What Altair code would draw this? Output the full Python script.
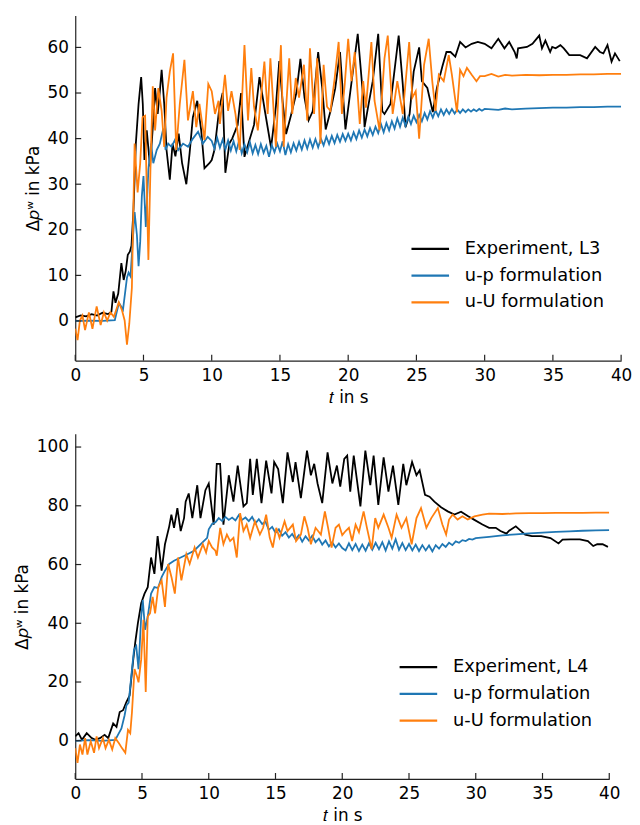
import altair as alt
import pandas as pd

# ---------------- top panel (L3) ----------------
top_exp_t = [0, 0.4, 0.8, 1.2, 1.6, 2.0, 2.4, 2.65, 2.8, 2.95, 3.15, 3.38, 3.55, 3.7, 3.85, 4.0, 4.12, 4.27, 4.44, 4.64,
             4.83, 4.95, 5.07, 5.24, 5.48, 5.72, 5.85, 6.04, 6.2, 6.33, 6.52, 6.69, 6.93, 7.13, 7.34, 7.58, 7.83, 8.14,
             8.38, 8.62, 8.94, 9.23, 9.47, 9.83, 10.0, 10.2, 10.56, 10.8, 11.0, 11.3, 11.5, 11.9, 12.15, 12.4, 12.8,
             13.1, 13.5, 13.9, 14.35, 14.7, 14.95, 15.2, 15.45, 15.8, 16.2, 16.5, 16.8, 17.1, 17.4, 17.8, 18.1, 18.35,
             18.7, 19.05, 19.4, 19.8, 20.1, 20.7, 21.1, 21.2, 21.45, 21.8, 22.2, 22.5, 22.66, 23.1, 23.7, 24.0, 24.2,
             24.5, 24.8, 25.2, 25.4, 25.8, 26.2, 26.5, 26.9, 27.2, 27.5, 27.85, 28.2, 28.6, 29.05, 29.5, 30.0, 30.5,
             31.0, 31.45, 31.8, 32.2, 32.35, 32.45, 33.1, 33.5, 34.0, 34.2, 34.45, 34.8, 34.95, 35.2, 35.55, 35.8, 36.2,
             37.0, 37.5, 38.1, 38.45, 38.7, 39.0, 39.3, 39.55, 39.9]
top_exp_p = [0.8, 1.2, 1.0, 1.5, 1.2, 1.8, 1.5, 2.0, 6.5, 4.0, 6.0, 12.7, 9.0, 11.0, 14.5, 15.2, 16.5, 24.6, 38.9, 47.6,
             53.5, 47.6, 35.3, 41.8, 33.9, 44.0, 51.1, 45.4, 50.4, 55.1, 47.6, 37.5, 31.0, 38.9, 36.1, 41.1, 34.6, 30.0,
             36.8, 44.7, 48.3, 41.8, 33.5, 34.6, 35.3, 37.5, 46.8, 50.0, 32.5, 39.0, 40.0, 43.0, 50.0, 36.0, 40.0,
             43.0, 53.5, 46.0, 38.0, 47.0, 57.0, 48.0, 41.0, 45.0, 50.0, 57.5, 49.0, 44.0, 46.0, 59.0, 51.0, 42.0,
             46.0, 51.0, 59.0, 42.0, 49.0, 63.0, 49.0, 42.5, 46.8, 52.6, 63.0, 46.0, 45.4, 47.6, 62.6, 51.9, 42.5,
             45.4, 54.7, 60.0, 52.6, 51.1, 45.8, 51.1, 55.8, 59.0, 59.0, 58.0, 61.2, 60.0, 60.8, 61.2, 60.8, 59.8,
             61.9, 59.8, 61.2, 59.0, 57.6, 59.8, 60.1, 60.8, 62.6, 59.8, 61.5, 59.0, 60.1, 59.8, 60.5, 59.8, 58.3,
             58.3, 57.6, 60.1, 59.0, 58.7, 60.5, 56.9, 58.7, 57.0]

top_up_t = [0, 1, 2, 2.9, 3.2, 3.5, 3.79, 3.91, 4.05, 4.35, 4.52, 4.64, 4.76, 4.88, 5.0, 5.17, 5.36, 5.56, 5.72, 5.97,
            6.2, 6.45, 6.62, 6.81, 7.05, 7.3, 7.54, 7.9, 8.26, 8.62, 9.0, 9.35, 9.71,
            10.0, 10.2, 10.4, 10.6, 10.8, 11.0, 11.2, 11.4, 11.6, 11.8, 12.0, 12.2, 12.4, 12.6, 12.8, 13.0, 13.2,
            13.4, 13.6, 13.8, 14.0, 14.2, 14.4, 14.6, 14.8, 15.0, 15.2, 15.4, 15.6, 15.8, 16.0, 16.2, 16.4, 16.6,
            16.8, 17.0, 17.2, 17.4, 17.6, 17.8, 18.0, 18.2, 18.4, 18.6, 18.8, 19.0, 19.2, 19.4, 19.6, 19.8, 20.0,
            20.2, 20.4, 20.6, 20.8, 21.0, 21.2, 21.4, 21.6, 21.8, 22.0, 22.2, 22.4, 22.6, 22.8, 23.0, 23.2, 23.4,
            23.6, 23.8, 24.0, 24.2, 24.4, 24.6, 24.8, 25.0, 25.2, 25.4, 25.6, 25.8, 26.0, 26.2, 26.4, 26.6, 26.8,
            27.0, 27.2, 27.4, 27.6, 27.8, 28.0, 28.2, 28.4, 28.6, 28.8, 29.0, 29.2, 29.4, 29.6, 29.8, 30.0,
            31.0, 31.5, 32.0, 33.0, 34.0, 35.0, 36.0, 37.0, 38.0, 39.0, 40.0]
top_up_p = [0.0, 0.1, 0.0, 0.2, 4.0, 2.5, 9.5, 10.6, 9.8, 23.9, 18.8, 12.0, 17.4, 27.4, 31.8, 20.6, 33.2, 38.9, 34.6, 37.5,
            38.9, 42.2, 37.5, 38.9, 38.2, 39.7, 37.5, 38.9, 38.2, 40.0, 41.5, 38.9, 40.4,
            39.5, 37.8, 40.2, 38.0, 39.8, 37.6, 39.6, 37.4, 39.4, 37.2, 39.5, 36.8, 38.8, 37.0, 39.2, 36.8, 38.6,
            36.6, 38.8, 36.9, 38.4, 36.0, 38.6, 37.0, 38.9, 37.2, 39.4, 36.4, 38.8, 37.0, 39.0, 37.4, 39.3, 37.6,
            39.6, 37.8, 39.8, 38.0, 39.9, 38.1, 40.0, 38.5, 40.4, 38.8, 40.6, 39.0, 40.8, 39.3, 41.0, 39.5, 41.1,
            39.6, 41.4, 39.9, 41.8, 40.2, 42.0, 40.5, 42.3, 40.8, 42.6, 41.2, 43.2, 41.4, 43.4, 41.8, 43.8, 42.2,
            44.4, 42.6, 44.6, 42.8, 44.8, 43.2, 45.0, 43.6, 45.2, 43.8, 45.6, 44.2, 46.0, 44.6, 46.2, 44.9, 46.4,
            45.2, 46.4, 45.4, 46.5, 45.5, 46.4, 45.6, 46.4, 45.8, 46.4, 45.9, 46.4, 46.0, 46.5, 46.1, 46.5,
            46.3, 46.6, 46.4, 46.6, 46.7, 46.8, 46.8, 46.9, 46.9, 47.0, 47.0]

top_uu_t = [0, 0.17, 0.34, 0.53, 0.72, 1.0, 1.26, 1.57, 1.86, 2.1, 2.34, 2.58, 2.83, 3.19, 3.43, 3.62, 3.79, 3.96, 4.15,
            4.35, 4.57, 4.76, 4.93, 5.12, 5.24, 5.36, 5.51, 5.68, 5.85, 6.09, 6.33, 6.52, 6.69, 6.93, 7.17, 7.4, 7.66,
            8.0, 8.26, 8.62, 8.87, 9.1, 9.47, 9.75, 10.0, 10.24, 10.5, 10.6, 10.97, 11.2, 11.45, 11.74, 12.05, 12.4,
            12.66, 12.9, 13.1, 13.38, 13.86, 14.1, 14.3, 14.7, 15.07, 15.27, 15.68, 15.9, 16.16, 16.4, 16.76, 17.0,
            17.2, 17.5, 17.73, 17.97, 18.2, 18.45, 18.7, 19.0, 19.3, 19.54, 19.75, 20.0, 20.24, 20.48, 20.85, 21.1,
            21.3, 21.7, 21.93, 22.3, 22.66, 22.9, 23.26, 23.6, 24.0, 24.47, 24.7, 24.95, 25.2, 25.56, 25.9, 26.16,
            26.4, 26.64, 27.0, 27.37, 27.6, 27.97, 28.2, 28.45, 28.7, 29.05, 29.4, 29.66, 30.0, 30.5, 31.0, 31.5,
            32.0, 33.0, 34.0, 35.0, 36.0, 37.0, 38.0, 39.0, 40.0]
top_uu_p = [-1.7, -4.2, 0.1, 1.2, -2.0, 1.9, -1.7, 3.2, -0.9, 1.9, 0.1, 1.9, 0.9, 4.1, 2.3, 0.1, -5.2, -0.6, 7.3,
            38.9, 28.2, 34.6, 44.7, 45.0, 28.9, 13.4, 33.2, 51.5, 41.8, 51.1, 46.1, 38.2, 49.0, 54.7, 58.7, 37.5, 47.6,
            57.3, 44.0, 50.4, 42.5, 47.6, 39.7, 52.0, 50.4, 45.4, 48.3, 43.2, 54.0, 46.1, 50.4, 45.4, 37.5, 60.5,
            44.0, 55.5, 47.0, 41.8, 56.9, 45.4, 57.6, 38.2, 60.5, 38.2, 57.6, 45.4, 53.3, 49.0, 56.2, 44.0,
            59.8, 45.4, 57.6, 38.9, 56.2, 47.0, 46.1, 53.0, 61.2, 45.4, 52.0, 61.9, 52.6, 59.0, 43.2, 52.6,
            46.8, 61.2, 48.3, 41.8, 57.6, 62.6, 45.4, 52.6, 45.4, 61.2, 49.0, 50.4, 40.0, 56.2, 61.9, 52.6,
            46.1, 54.0, 52.6, 58.3, 54.0, 45.8, 55.1, 53.7, 55.5, 54.0, 52.6, 53.7, 53.7, 54.2, 53.6, 54.0,
            53.8, 54.0, 53.9, 54.0, 54.0, 54.1, 54.1, 54.2, 54.2]

# ---------------- bottom panel (L4) ----------------
bot_exp_t = [0, 0.25, 0.5, 0.86, 1.23, 1.5, 1.85, 2.2, 2.47, 2.84, 3.09, 3.33, 3.58, 3.83, 4.07, 4.32, 4.49, 4.69, 4.94,
             5.19, 5.43, 5.68, 5.93, 6.17, 6.47, 6.72, 7.04, 7.2, 7.4, 7.65, 7.9, 8.15, 8.27, 8.5, 8.77, 9.14, 9.38,
             9.75, 10.0, 10.37, 10.6, 10.85, 11.1, 11.5, 11.85, 12.17, 12.6, 12.85, 13.1, 13.3, 13.6, 13.95, 14.3,
             14.7, 14.9, 15.2, 15.55, 15.9, 16.3, 16.5, 16.9, 17.36, 17.65, 17.9, 18.15, 18.5, 18.9, 19.26, 19.6,
             19.85, 20.15, 20.37, 20.6, 20.86, 21.36, 21.73, 22.1, 22.35, 22.7, 23.1, 23.46, 23.8, 24.2, 24.57, 24.8,
             25.23, 25.56, 25.8, 26.2, 26.54, 26.9, 27.4, 27.9, 28.4, 28.9, 29.4, 29.9, 30.5, 31.0, 31.5, 31.85, 32.3,
             32.5, 33.0, 33.4, 33.7, 34.2, 34.9, 35.6, 36.2, 36.5, 37.1, 37.8, 38.4, 38.8, 39.1, 39.5, 39.9]
bot_exp_p = [1.5, 2.6, 0.3, 2.6, 0.9, 0.3, 0.9, 2.0, 0.9, 5.9, 4.7, 9.8, 10.4, 13.2, 15.4, 26.6, 33.3, 40.0, 46.8,
             50.1, 52.3, 62.4, 56.8, 69.7, 57.9, 66.9, 73.0, 77.0, 72.5, 79.2, 71.4, 75.8, 81.4, 84.2, 75.8, 87.0, 75.8,
             85.3, 87.6, 73.6, 94.3, 94.3, 73.6, 90.4, 81.4, 93.7, 79.8, 80.9, 96.0, 83.7, 96.0, 80.9, 95.4,
             84.2, 94.9, 92.5, 80.9, 98.2, 88.1, 94.9, 82.6, 98.8, 90.4, 94.3, 87.6, 80.9, 98.2, 87.6, 93.7,
             86.5, 96.0, 97.1, 84.8, 97.1, 79.8, 98.8, 87.0, 97.1, 80.3, 96.5, 84.8, 93.7, 80.3, 94.3, 87.0,
             94.9, 90.4, 92.1, 83.7, 83.1, 81.4, 79.5, 78.1, 77.0, 78.0, 76.5, 75.2, 73.6, 72.5, 72.5, 71.4, 70.5,
             71.5, 73.0, 71.4, 70.2, 69.7, 69.7, 69.0, 67.2, 68.5, 68.6, 68.6, 68.0, 66.3, 66.9, 66.9, 66.0]

bot_up_t = [0, 1, 2, 3.0, 3.2, 3.46, 3.7, 3.83, 4.0, 4.2, 4.4, 4.57, 4.74, 4.94, 5.06, 5.23, 5.43, 5.68, 5.93, 6.2, 6.47,
            6.72, 7.04, 7.4, 7.9, 8.4, 8.9, 9.38, 9.88, 10.0, 10.25, 10.5, 10.75, 11.0, 11.25, 11.5, 11.75, 12.0,
            12.25, 12.5, 12.75, 13.0, 13.25, 13.5, 13.75, 14.0, 14.25, 14.5, 14.75, 15.0, 15.25, 15.5, 15.75, 16.0,
            16.25, 16.5, 16.75, 17.0, 17.25, 17.5, 17.75, 18.0, 18.25, 18.5, 18.75, 19.0, 19.25, 19.5, 19.75, 20.0,
            20.25, 20.5, 20.75, 21.0, 21.25, 21.5, 21.75, 22.0, 22.25, 22.5, 22.75, 23.0, 23.25, 23.5, 23.75, 24.0,
            24.25, 24.5, 24.75, 25.0, 25.25, 25.5, 25.75, 26.0, 26.25, 26.5, 26.75, 27.0, 27.25, 27.5, 27.75, 28.0,
            28.25, 28.5, 28.75, 29.0, 29.25, 29.5, 29.75, 30.0, 31, 32, 33, 34, 35, 36, 37, 38, 39, 40]
bot_up_p = [0.0, 0.2, 0.0, 0.3, 2.0, 4.2, 8.7, 12.0, 13.0, 22.0, 31.0, 32.2, 24.4, 42.3, 47.9, 37.8, 42.3, 50.1, 52.3,
            52.0, 55.7, 57.9, 60.2, 61.3, 62.4, 63.5, 64.7, 66.9, 69.1, 72.0, 73.8, 74.4, 75.8, 74.8, 76.2, 75.2,
            76.0, 75.0, 76.8, 75.2, 76.0, 74.8, 76.2, 74.0, 75.4, 73.8, 74.6, 71.8, 72.8, 70.8, 72.0, 69.8, 71.0,
            69.2, 70.4, 68.6, 70.0, 67.8, 69.6, 68.2, 69.8, 67.6, 68.8, 66.8, 68.2, 66.2, 67.6, 65.8, 67.2, 65.6,
            64.8, 67.2, 64.9, 67.0, 64.6, 66.8, 64.7, 67.2, 65.0, 67.4, 65.2, 67.6, 64.8, 67.9, 65.4, 68.6,
            65.0, 67.3, 64.9, 67.0, 64.8, 66.8, 64.6, 66.6, 64.8, 66.5, 64.5, 66.6, 65.4, 67.0, 66.0, 67.4,
            66.6, 67.9, 67.4, 68.3, 68.0, 68.7, 68.5, 69.0, 69.4, 69.9, 70.3, 70.6, 70.9, 71.1, 71.3, 71.5, 71.6, 71.7]

bot_uu_t = [0, 0.17, 0.35, 0.54, 0.74, 0.91, 1.16, 1.41, 1.6, 1.78, 2.07, 2.27, 2.52, 2.77, 3.0, 3.26, 3.5, 3.75, 3.95,
            4.12, 4.25, 4.44, 4.62, 4.74, 4.94, 5.11, 5.28, 5.43, 5.6, 5.8, 5.98, 6.22, 6.47, 6.72, 6.96, 7.21, 7.46,
            7.7, 7.95, 8.32, 8.57, 8.94, 9.19, 9.56, 9.8, 10.0, 10.25, 10.5, 10.6, 10.86, 11.1, 11.36, 11.6, 11.85,
            12.1, 12.35, 12.6, 12.84, 13.1, 13.46, 13.83, 14.07, 14.3, 14.57, 14.8, 15.06, 15.3, 15.68, 15.9, 16.3,
            16.54, 16.9, 17.16, 17.4, 17.65, 18.0, 18.4, 18.7, 18.94, 19.2, 19.5, 19.75, 20.0, 20.25, 20.5, 20.74,
            21.0, 21.25, 21.6, 21.85, 22.2, 22.47, 22.7, 23.1, 23.46, 23.7, 24.07, 24.44, 24.8, 25.2, 25.56, 25.9,
            26.3, 26.67, 27.16, 27.5, 27.78, 28.0, 28.27, 28.64, 29.0, 29.4, 29.9, 30.5, 31, 32, 33, 34, 35, 36, 37,
            38, 39, 40]
bot_uu_p = [-2.5, -7.5, -1.3, -4.7, 0.9, -4.7, -0.2, -4.1, 1.5, -2.5, 0.9, -2.5, 0.3, -3.0, 0.9, -0.8, -2.5, -4.1, 3.7,
            2.6, 9.8, 24.4, 22.0, 19.9, 27.7, 41.2, 16.6, 42.3, 43.4, 49.0, 43.4, 52.3, 54.6, 45.6, 60.2, 55.7, 50.1,
            62.4, 54.6, 63.5, 60.2, 65.8, 62.4, 66.9, 64.1, 68.0, 65.8, 64.7, 63.0, 72.5, 66.9, 70.2, 68.0, 69.1,
            62.4, 77.5, 71.4, 73.6, 69.1, 74.7, 70.2, 72.5, 77.0, 69.1, 65.8, 72.5, 69.1, 74.7, 71.4, 73.6,
            68.0, 70.2, 76.4, 72.5, 66.9, 72.5, 70.2, 78.1, 72.5, 65.8, 72.5, 73.6, 70.0, 71.4, 72.5, 68.0,
            73.6, 71.0, 78.1, 72.5, 65.2, 75.8, 72.5, 77.0, 72.5, 69.1, 77.0, 72.5, 75.8, 66.9, 75.8, 79.2,
            72.5, 75.8, 79.2, 73.6, 70.2, 75.3, 77.0, 75.3, 76.4, 75.3, 76.4, 77.0, 77.3, 77.2, 77.4, 77.5, 77.5,
            77.6, 77.6, 77.6, 77.7, 77.7]

top_names = ["Experiment, L3", "u-p formulation", "u-U formulation"]
bot_names = ["Experiment, L4", "u-p formulation", "u-U formulation"]
colors = ["#000000", "#1f77b4", "#ff7f0e"]

top_xticks = [0, 5, 10, 15, 20, 25, 30, 35, 40]
top_yticks = [0, 10, 20, 30, 40, 50, 60]
bot_xticks = [0, 5, 10, 15, 20, 25, 30, 35, 40]
bot_yticks = [0, 20, 40, 60, 80, 100]

FONT = "DejaVu Sans"
AX = "#222222"


def make_df(series):
    rows = []
    for name, ts, ps in series:
        for t, p in zip(ts, ps):
            rows.append({"t": t, "p": p, "s": name})
    return pd.DataFrame(rows)


def panel(df, names, ydom, xticks, yticks, width, height, lx, ly):
    color = alt.Color(
        "s:N",
        scale=alt.Scale(domain=names, range=colors),
        legend=alt.Legend(
            title=None, orient="none", legendX=lx, legendY=ly,
            symbolType="M-2,0H2", symbolSize=361, symbolStrokeWidth=2.2,
            labelFontSize=18, labelFont=FONT, labelColor="black",
            labelOffset=24, rowPadding=7, padding=0,
        ),
    )
    x = alt.X("t:Q", scale=alt.Scale(domain=[0, 40], nice=False, zero=False),
              axis=alt.Axis(values=xticks, title="𝑡 in s", ticks=False, grid=False,
                            domainColor=AX, domainWidth=1.2, labelFontSize=17, labelFont=FONT,
                            labelColor="black", labelPadding=7, labelFlush=False, labelOverlap=False,
                            titleFontSize=17, titleFont=FONT, titleFontWeight="normal",
                            titleColor="black", titlePadding=6))
    y = alt.Y("p:Q", scale=alt.Scale(domain=ydom, nice=False, zero=False),
              axis=alt.Axis(values=yticks, title="Δ𝑝ʷ in kPa", ticks=False, grid=False,
                            domainColor=AX, domainWidth=1.2, labelFontSize=17, labelFont=FONT,
                            labelColor="black", labelPadding=7, labelFlush=False, labelOverlap=False,
                            titleFontSize=17, titleFont=FONT, titleFontWeight="normal",
                            titleColor="black", titlePadding=5))
    base = alt.Chart(df).mark_line(strokeWidth=1.8, clip=True).encode(x=x, y=y, color=color)
    layers = [base.transform_filter(alt.datum.s == n) for n in names]
    xt = alt.Chart(pd.DataFrame({"t": xticks})).mark_rule(color=AX, strokeWidth=1.2).encode(
        x=x, y=alt.value(height), y2=alt.value(height - 6))
    yt = alt.Chart(pd.DataFrame({"p": yticks})).mark_rule(color=AX, strokeWidth=1.2).encode(
        y=y, x=alt.value(0), x2=alt.value(6))
    return alt.layer(*layers, xt, yt).properties(width=width, height=height)


top_df = make_df([(top_names[0], top_exp_t, top_exp_p),
                  (top_names[1], top_up_t, top_up_p),
                  (top_names[2], top_uu_t, top_uu_p)])
bot_df = make_df([(bot_names[0], bot_exp_t, bot_exp_p),
                  (bot_names[1], bot_up_t, bot_up_p),
                  (bot_names[2], bot_uu_t, bot_uu_p)])

top = panel(top_df, top_names, [-8.7, 67], top_xticks, top_yticks, 552, 349, 348, 225)
bot = panel(bot_df, bot_names, [-13, 104.5], bot_xticks, bot_yticks, 540, 349, 336, 225)

chart = (
    alt.vconcat(top, bot, spacing=29)
    .resolve_scale(color="independent", x="independent", y="independent")
    .resolve_legend(color="independent")
    .properties(padding={"left": 5, "top": 3, "right": 0, "bottom": 0}, background="white")
    .configure_view(stroke="transparent", strokeWidth=0)
)

chart.save("out.html", embed_options={"renderer": "svg", "actions": False})
